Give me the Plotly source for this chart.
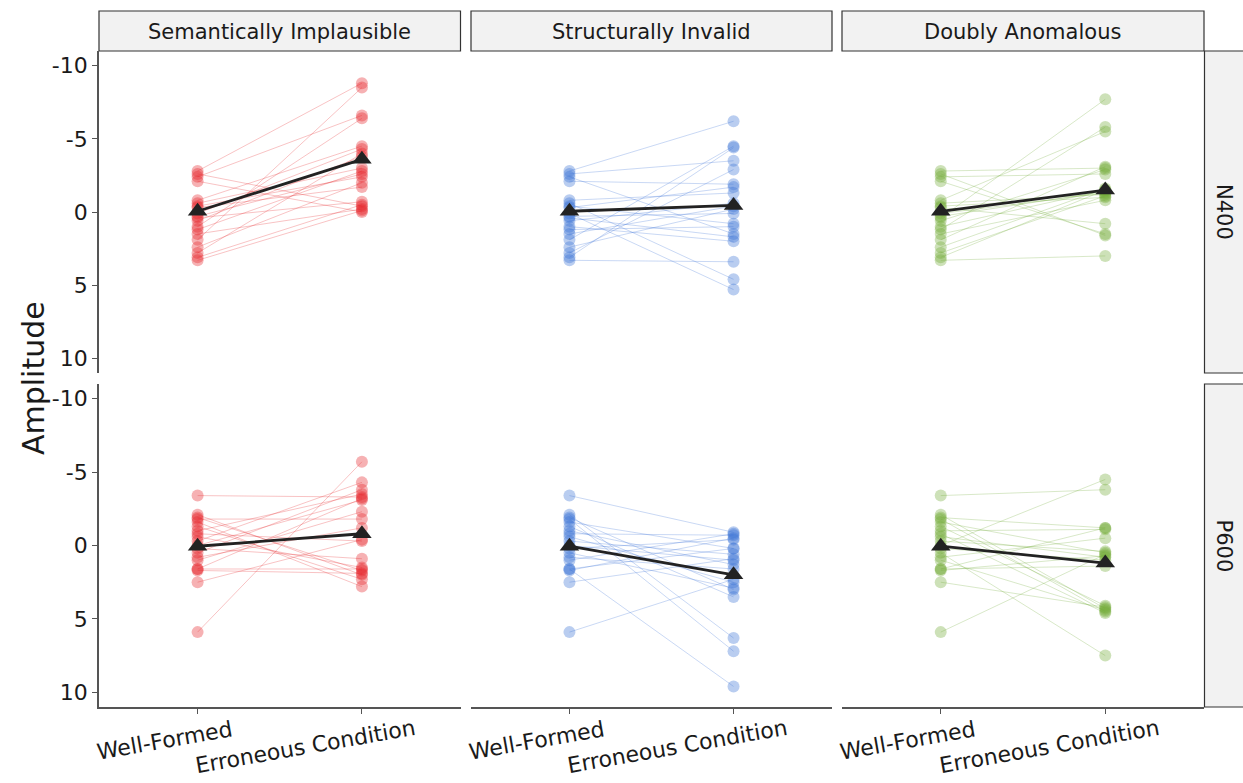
import plotly.graph_objects as go

# ---------------- data ----------------
conditions = ["Semantically Implausible", "Structurally Invalid", "Doubly Anomalous"]
components = ["N400", "P600"]
x_levels = ["Well-Formed", "Erroneous Condition"]
y_ticks = [-10, -5, 0, 5, 10]
y_ticktext = ["-10", "-5", "0", "5", "10"]

wf_n400 = [-2.8, -2.6, -2.4, -2.1, -0.8, -0.6, -0.4, -0.3, 0.1, 0.3,
           0.4, 0.6, 1.0, 1.2, 1.5, 1.9, 2.4, 2.8, 3.1, 3.3]
err_n400_semantic = [-8.8, -0.4, -6.6, 0.0, -4.5, -3.0, -2.4, -1.7, -4.3, -2.6,
                     -0.7, -3.8, -6.4, -2.8, -0.2, -8.5, -2.0, -4.0, -0.5, -0.1]
err_n400_structural = [-6.2, -3.5, 1.5, -1.9, -1.3, 4.6, 0.8, -1.7, 5.3, 0.1,
                       1.7, -0.6, 2.0, 1.0, -0.4, -4.5, -0.2, -2.9, -4.4, 3.4]
err_n400_doubly = [-3.0, 1.6, -2.6, 1.5, -5.5, -1.2, -1.0, 0.8, -1.3, -1.4,
                   -7.7, -2.9, -1.5, -5.8, -0.8, -3.1, -1.6, -1.1, -1.5, 3.0]

wf_p600 = [-3.4, -2.1, -1.9, -1.8, -1.6, -1.3, -1.0, -0.8, -0.6, -0.3,
           0.0, 0.2, 0.5, 0.8, 1.0, 1.6, 1.6, 1.7, 2.5, 5.9]
err_p600_semantic = [-3.3, 2.0, 1.7, -1.8, 2.8, 2.3, -3.5, -0.3, 1.5, -4.3,
                     -3.1, 0.9, -3.8, -1.2, -2.3, 1.6, -3.2, 1.9, -0.4, -5.7]
err_p600_structural = [-0.9, 6.3, 3.0, 7.2, 0.2, 3.5, 1.3, -0.7, 2.5, 0.6,
                       1.0, -0.4, 2.9, 1.6, -0.8, 9.6, 0.2, -0.5, 0.9, 2.3]
err_p600_doubly = [-3.8, 4.3, -1.2, 4.5, 0.5, 4.1, -1.1, 4.6, 0.8, 0.4,
                   -4.5, 1.0, 7.5, -0.5, 4.4, 1.4, -1.2, 0.7, 4.2, 0.6]

mean_n400_wf = [-0.05, -0.05, -0.05]
mean_n400_err = [-3.6, -0.45, -1.5]
mean_p600_wf = [0.05, 0.05, 0.05]
mean_p600_err = [-0.8, 2.0, 1.2]

wf_by_row = [wf_n400, wf_p600]
err_by_panel = [
    [err_n400_semantic, err_n400_structural, err_n400_doubly],
    [err_p600_semantic, err_p600_structural, err_p600_doubly],
]
mean_wf_by_row = [mean_n400_wf, mean_p600_wf]
mean_err_by_row = [mean_n400_err, mean_p600_err]

colors = ["#E6282B", "#3C74D6", "#74AD3A"]

# ---------------- layout geometry ----------------
W, H = 1243, 783
col_px = [(99, 460.5), (471, 832), (842, 1204)]
row_px = [(51, 373), (384, 707)]
FONT = "DejaVu Sans"
TXT = "#1a1a1a"
AX = "#555555"


def px2x(p):
    return p / W


def px2y(p):
    return 1 - p / H


def rgba(hx, a):
    hx = hx.lstrip("#")
    r, g, b = int(hx[0:2], 16), int(hx[2:4], 16), int(hx[4:6], 16)
    return f"rgba({r},{g},{b},{a})"


fig = go.Figure()
layout = {}
annotations = []
shapes = []

for r, comp in enumerate(components):
    for c, cond in enumerate(conditions):
        idx = r * 3 + c + 1
        xs = "x" if idx == 1 else f"x{idx}"
        ys = "y" if idx == 1 else f"y{idx}"
        wf = wf_by_row[r]
        err = err_by_panel[r][c]
        col = colors[c]

        for a, b in zip(wf, err):
            fig.add_trace(go.Scatter(
                x=x_levels, y=[a, b], mode="lines", xaxis=xs, yaxis=ys,
                line=dict(color=rgba(col, 0.28), width=1),
                hoverinfo="skip", showlegend=False))

        fig.add_trace(go.Scatter(
            x=[x_levels[0]] * len(wf) + [x_levels[1]] * len(err),
            y=list(wf) + list(err), mode="markers", xaxis=xs, yaxis=ys,
            marker=dict(color=rgba(col, 0.36), size=12, line=dict(width=0)),
            showlegend=False))

        fig.add_trace(go.Scatter(
            x=x_levels, y=[mean_wf_by_row[r][c], mean_err_by_row[r][c]],
            mode="lines+markers", xaxis=xs, yaxis=ys,
            line=dict(color="#222222", width=2.8),
            marker=dict(symbol="triangle-up", size=17, color="#222222"),
            showlegend=False))

        x0, x1 = col_px[c]
        y0, y1 = row_px[r]
        bottom = r == len(components) - 1
        left = c == 0
        layout["xaxis" if idx == 1 else f"xaxis{idx}"] = dict(
            domain=[px2x(x0), px2x(x1)], anchor=ys, type="category",
            categoryorder="array", categoryarray=x_levels,
            range=[-0.6, 1.6], showgrid=False, zeroline=False,
            showline=bottom, linecolor=AX, linewidth=1.6,
            ticks="outside" if bottom else "", ticklen=5, tickcolor=AX,
            tickwidth=1.2, showticklabels=False)
        layout["yaxis" if idx == 1 else f"yaxis{idx}"] = dict(
            domain=[px2y(y1), px2y(y0)], anchor=xs,
            range=[11, -11], showgrid=False, zeroline=False,
            showline=left, linecolor=AX, linewidth=1.6,
            ticks="outside" if left else "", ticklen=5, tickcolor=AX,
            tickwidth=1.2, tickvals=y_ticks, ticktext=y_ticktext,
            showticklabels=left, tickfont=dict(family=FONT, size=22, color=TXT))

        if bottom:
            for lab, dx, dy in zip(x_levels, [-33, -56], [-33, -39]):
                annotations.append(dict(
                    xref=xs, yref="paper", x=lab, y=px2y(y1),
                    xshift=dx, yshift=dy, text=lab, showarrow=False,
                    textangle=-10, xanchor="center", yanchor="middle",
                    font=dict(family=FONT, size=22, color=TXT)))

# column strips
for c, cond in enumerate(conditions):
    x0, x1 = col_px[c]
    shapes.append(dict(type="rect", xref="paper", yref="paper",
                       x0=px2x(x0), x1=px2x(x1), y0=px2y(51), y1=px2y(11),
                       fillcolor="#F2F2F2", line=dict(color="#333333", width=1.2),
                       layer="below"))
    annotations.append(dict(xref="paper", yref="paper",
                            x=px2x((x0 + x1) / 2), y=px2y(32), text=cond,
                            showarrow=False, xanchor="center", yanchor="middle",
                            font=dict(family=FONT, size=21, color=TXT)))

# row strips
for r, comp in enumerate(components):
    y0, y1 = row_px[r]
    shapes.append(dict(type="rect", xref="paper", yref="paper",
                       x0=px2x(1204.5), x1=px2x(1265), y0=px2y(y1), y1=px2y(y0),
                       fillcolor="#F2F2F2", line=dict(color="#333333", width=1.2),
                       layer="below"))
    annotations.append(dict(xref="paper", yref="paper",
                            x=px2x(1224), y=px2y((y0 + y1) / 2), text=comp,
                            textangle=90, showarrow=False, xanchor="center",
                            yanchor="middle",
                            font=dict(family=FONT, size=21, color=TXT)))

# y-axis title
annotations.append(dict(xref="paper", yref="paper", x=px2x(33), y=px2y(378),
                        text="Amplitude", textangle=-90, showarrow=False,
                        xanchor="center", yanchor="middle",
                        font=dict(family=FONT, size=30, color=TXT)))

fig.update_layout(
    width=W, height=H, margin=dict(l=0, r=0, t=0, b=0),
    paper_bgcolor="white", plot_bgcolor="white",
    annotations=annotations, shapes=shapes, showlegend=False,
    **layout)

fig.write_html("out.html")
